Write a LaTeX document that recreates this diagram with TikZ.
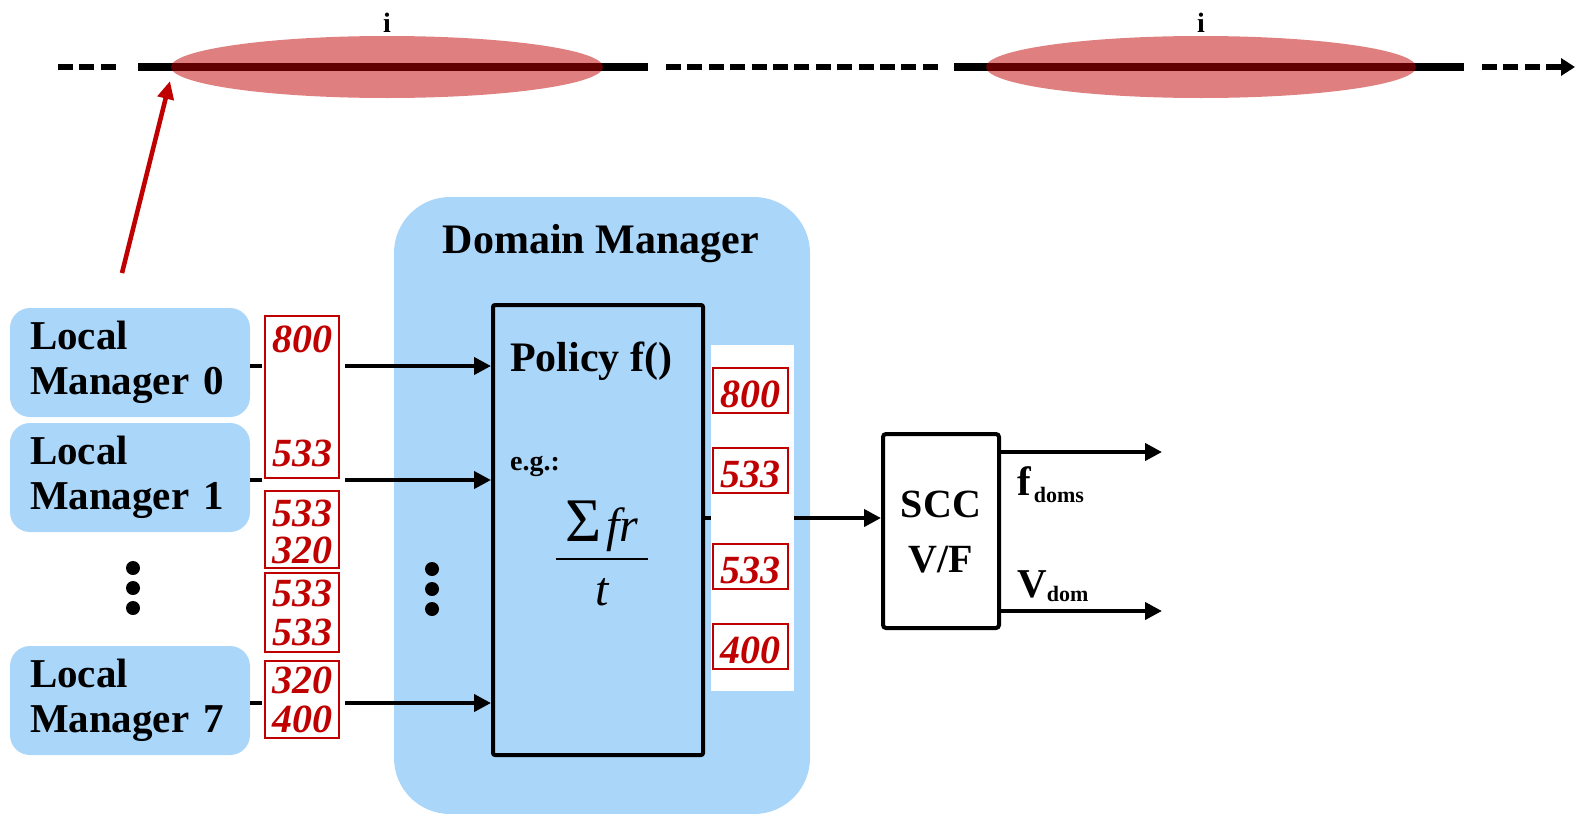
\documentclass[tikz,border=0pt]{standalone}
\usepackage{fontspec}
\setmainfont{Liberation Serif}
\usetikzlibrary{arrows.meta}
\definecolor{lblue}{RGB}{170,214,250}
\definecolor{dred}{RGB}{192,0,0}
\begin{document}
\begin{tikzpicture}[x=1pt,y=-1pt,
  tl/.style={line width=8pt},
  dsh/.style={line width=6pt,dash pattern=on 15pt off 6.4pt},
  arr/.style={line width=4pt,-{Triangle[length=17pt,width=17pt]}},
  lmbox/.style={fill=lblue,rounded corners=20pt,minimum width=240pt,minimum height=109pt,
    text width=200pt,align=left,inner xsep=20pt,inner ysep=0pt,
    font=\fontsize{41}{45}\selectfont\bfseries},
  rbox/.style={draw=dred,line width=2pt,fill=white,inner sep=0pt},
  num/.style={font=\fontsize{40}{40}\selectfont\bfseries\itshape,text=dred,inner sep=0pt,anchor=base},
  lbl/.style={inner sep=0pt,anchor=base,font=\fontsize{42}{42}\selectfont\bfseries},
  dot/.style={fill=black}
]
\useasboundingbox (0,0) rectangle (1575,814);

% ---- timeline ----
\draw[dsh] (58,67) -- (117,67);
\draw[tl] (138,67) -- (648,67);
\draw[dsh] (666,67) -- (938,67);
\draw[tl] (954,67) -- (1464,67);
\coordinate (tend) at (1575,67);
\draw[dsh,-{Triangle[length=14pt,width=17pt]}] (1482,67) -- (tend);
\fill[dred,opacity=0.5] (387,67) ellipse [x radius=216pt,y radius=31pt];
\fill[dred,opacity=0.5] (1201,67) ellipse [x radius=215pt,y radius=31pt];
\node[lbl,font=\fontsize{28}{28}\selectfont\bfseries] (i1) at (387,32) {i};
\node[lbl,font=\fontsize{28}{28}\selectfont\bfseries] (i2) at (1201,32) {i};

% red pointer
\coordinate (ps) at (122,273);
\coordinate (pe) at (170,81);
\draw[line width=4.5pt,dred,-{Triangle[length=18pt,width=16pt]}] (ps) -- (pe);

% ---- domain manager ----
\node[fill=lblue,rounded corners=56pt,minimum width=416pt,minimum height=617pt,inner sep=0pt] (dm) at (602,505.5) {};
\node[lbl] (dmt) at (601,253) {Domain Manager};
\node[draw,line width=4pt,rounded corners=2pt,minimum width=210pt,minimum height=450pt,inner sep=0pt] (pol) at (598,530) {};
\node[inner sep=0pt,anchor=base west,font=\fontsize{42}{42}\selectfont\bfseries] (polt) at (510,371) {Policy f()};
\node[inner sep=0pt,anchor=base west,font=\fontsize{28}{28}\selectfont\bfseries] (eg) at (510,470) {e.g.:};
\node[inner sep=0pt,anchor=base] (frn) at (602,541) {{\fontsize{62}{62}\selectfont Σ}\kern4pt{\fontsize{48}{48}\selectfont\itshape fr}};
\draw[line width=2pt] (556,559) -- (648,559);
\node[inner sep=0pt,anchor=base] (frd) at (602,605) {\fontsize{48}{48}\selectfont\itshape t};
\fill[dot] (432,569) circle (7pt);
\fill[dot] (432,589) circle (7pt);
\fill[dot] (432,609) circle (7pt);

% ---- local managers ----
\node[lmbox] (lm0) at (130,362.5) {Local\\Manager 0};
\node[lmbox] (lm1) at (130,477.5) {Local\\Manager 1};
\node[lmbox] (lm7) at (130,700.5) {Local\\Manager 7};
\fill[dot] (133,568) circle (7pt);
\fill[dot] (133,588) circle (7pt);
\fill[dot] (133,608) circle (7pt);

\coordinate (y0) at (0,366);
\coordinate (y1) at (0,480);
\coordinate (y7) at (0,703);
\draw[arr] (lm0.east |- y0) -- (pol.west |- y0);
\draw[arr] (lm1.east |- y1) -- (pol.west |- y1);
\draw[arr] (lm7.east |- y7) -- (pol.west |- y7);
\fill[white] (262,308) rectangle (345,745);

\node[rbox,minimum width=74pt,minimum height=162pt] (ba) at (302,397) {};
\node[rbox,minimum width=74pt,minimum height=77pt] (bb) at (302,529.5) {};
\node[rbox,minimum width=74pt,minimum height=79pt] (bc) at (302,612.5) {};
\node[rbox,minimum width=74pt,minimum height=77pt] (bd) at (302,699.5) {};
\node[num] (na1) at (302,352) {800};
\node[num] (na2) at (302,466) {533};
\node[num] (nb1) at (302,526) {533};
\node[num] (nb2) at (302,563) {320};
\node[num] (nc1) at (302,606) {533};
\node[num] (nc2) at (302,645) {533};
\node[num] (nd1) at (302,693) {320};
\node[num] (nd2) at (302,732) {400};

% ---- output of domain manager ----
\node[draw,line width=4pt,rounded corners=3pt,minimum width=116pt,minimum height=194pt,inner sep=0pt] (scc) at (941,531) {};
\node[lbl,font=\fontsize{40}{40}\selectfont\bfseries] (scct) at (941,517) {SCC};
\node[lbl,font=\fontsize{40}{40}\selectfont\bfseries] (vft) at (941,572) {V/F};
\coordinate (yo) at (0,518);
\draw[arr] (pol.east |- yo) -- (scc.west |- yo);
\fill[white] (711,345) rectangle (794,691);
\node[rbox,minimum width=75pt,minimum height=45pt] (r1) at (750.5,390.5) {};
\node[rbox,minimum width=75pt,minimum height=45pt] (r2) at (750.5,470.5) {};
\node[rbox,minimum width=75pt,minimum height=45pt] (r3) at (750.5,566) {};
\node[rbox,minimum width=75pt,minimum height=45pt] (r4) at (750.5,646) {};
\node[num] (m1) at (750.5,407) {800};
\node[num] (m2) at (750.5,487) {533};
\node[num] (m3) at (750.5,583) {533};
\node[num] (m4) at (750.5,663) {400};

% ---- outputs ----
\coordinate (fe) at (1162,452);
\coordinate (ve) at (1162,611);
\draw[arr] (scc.east |- fe) -- (fe);
\draw[arr] (scc.east |- ve) -- (ve);
\node[inner sep=0pt,anchor=base west] (fl) at (1017,495) {\fontsize{41}{41}\selectfont\bfseries f\kern3pt\raisebox{-7pt}{\fontsize{22}{22}\selectfont doms}};
\node[inner sep=0pt,anchor=base west] (vl) at (1017,597) {\fontsize{41}{41}\selectfont\bfseries V\raisebox{-4pt}{\fontsize{22}{22}\selectfont dom}};
\end{tikzpicture}
\end{document}
